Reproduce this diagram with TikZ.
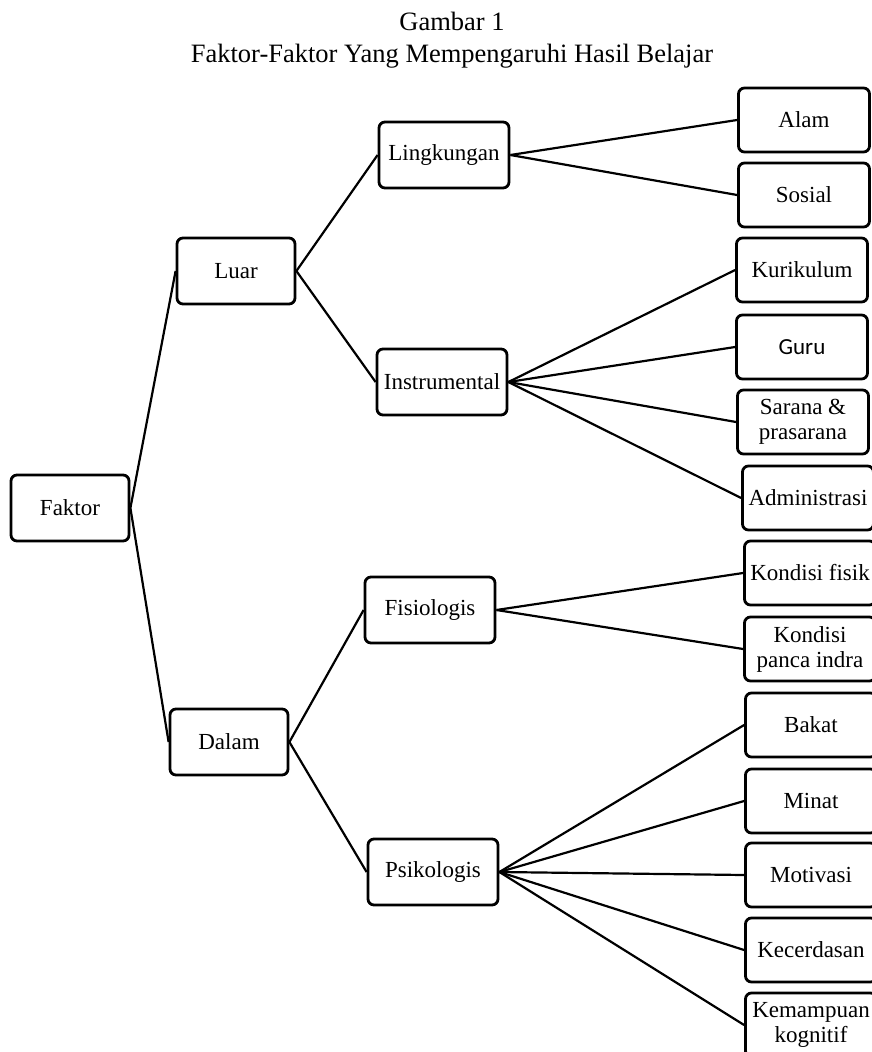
\documentclass[tikz,border=0pt]{standalone}
\usepackage{fontspec}
\setmainfont{Liberation Serif}
\newfontfamily\gurufont{Carlito}

\tikzset{
  box/.style={draw, line width=2.8pt, rounded corners=6pt, align=center,
    minimum height=66pt, inner sep=4pt, font=\fontsize{23}{25}\selectfont},
  lvlone/.style={box, minimum width=118pt},
  lvltwo/.style={box, minimum width=130pt},
  leaf/.style={box, minimum width=131pt, minimum height=64pt},
  link/.style={line width=2.2pt}
}

\begin{document}
\begin{tikzpicture}[x=1pt,y=-1pt]

\useasboundingbox (0,0) rectangle (871,1052);

\node[align=center, font=\fontsize{26.5}{32}\selectfont] (title) at (452,40)
  {Gambar 1\\Faktor-Faktor Yang Mempengaruhi Hasil Belajar};

\node[lvlone] (faktor) at (70,508) {Faktor};

\node[lvlone] (luar) at (236,271) {Luar};
\node[lvlone] (dalam) at (229,742) {Dalam};

\node[lvltwo] (lingkungan) at (444,155) {Lingkungan};
\node[lvltwo] (instrumental) at (442,382) {Instrumental};
\node[lvltwo] (fisiologis) at (430,610) {Fisiologis};
\node[lvltwo] (psikologis) at (433,872) {Psikologis};

\node[leaf] (alam) at (804,120) {Alam};
\node[leaf] (sosial) at (804,195) {Sosial};

\node[leaf] (kurikulum) at (802,270) {Kurikulum};
\node[leaf] (guru) at (802,347) {\gurufont Guru};
\node[leaf] (sarana) at (803,422) {Sarana \&\\prasarana};
\node[leaf] (administrasi) at (808,498) {Administrasi};

\node[leaf] (fisik) at (810,573) {Kondisi fisik};
\node[leaf] (panca) at (810,649) {Kondisi\\panca indra};

\node[leaf] (bakat) at (811,725) {Bakat};
\node[leaf] (minat) at (811,801) {Minat};
\node[leaf] (motivasi) at (811,875) {Motivasi};
\node[leaf] (kecerdasan) at (811,950) {Kecerdasan};
\node[leaf] (kemampuan) at (811,1025) {Kemampuan\\kognitif};

\draw[link] (faktor.east)--(luar.west);
\draw[link] (faktor.east)--(dalam.west);

\draw[link] (luar.east)--(lingkungan.west);
\draw[link] (luar.east)--(instrumental.west);
\draw[link] (dalam.east)--(fisiologis.west);
\draw[link] (dalam.east)--(psikologis.west);

\foreach \leafname in {alam,sosial}
  \draw[link] (lingkungan.east)--(\leafname.west);
\foreach \leafname in {kurikulum,guru,sarana,administrasi}
  \draw[link] (instrumental.east)--(\leafname.west);
\foreach \leafname in {fisik,panca}
  \draw[link] (fisiologis.east)--(\leafname.west);
\foreach \leafname in {bakat,minat,motivasi,kecerdasan,kemampuan}
  \draw[link] (psikologis.east)--(\leafname.west);

\end{tikzpicture}
\end{document}
